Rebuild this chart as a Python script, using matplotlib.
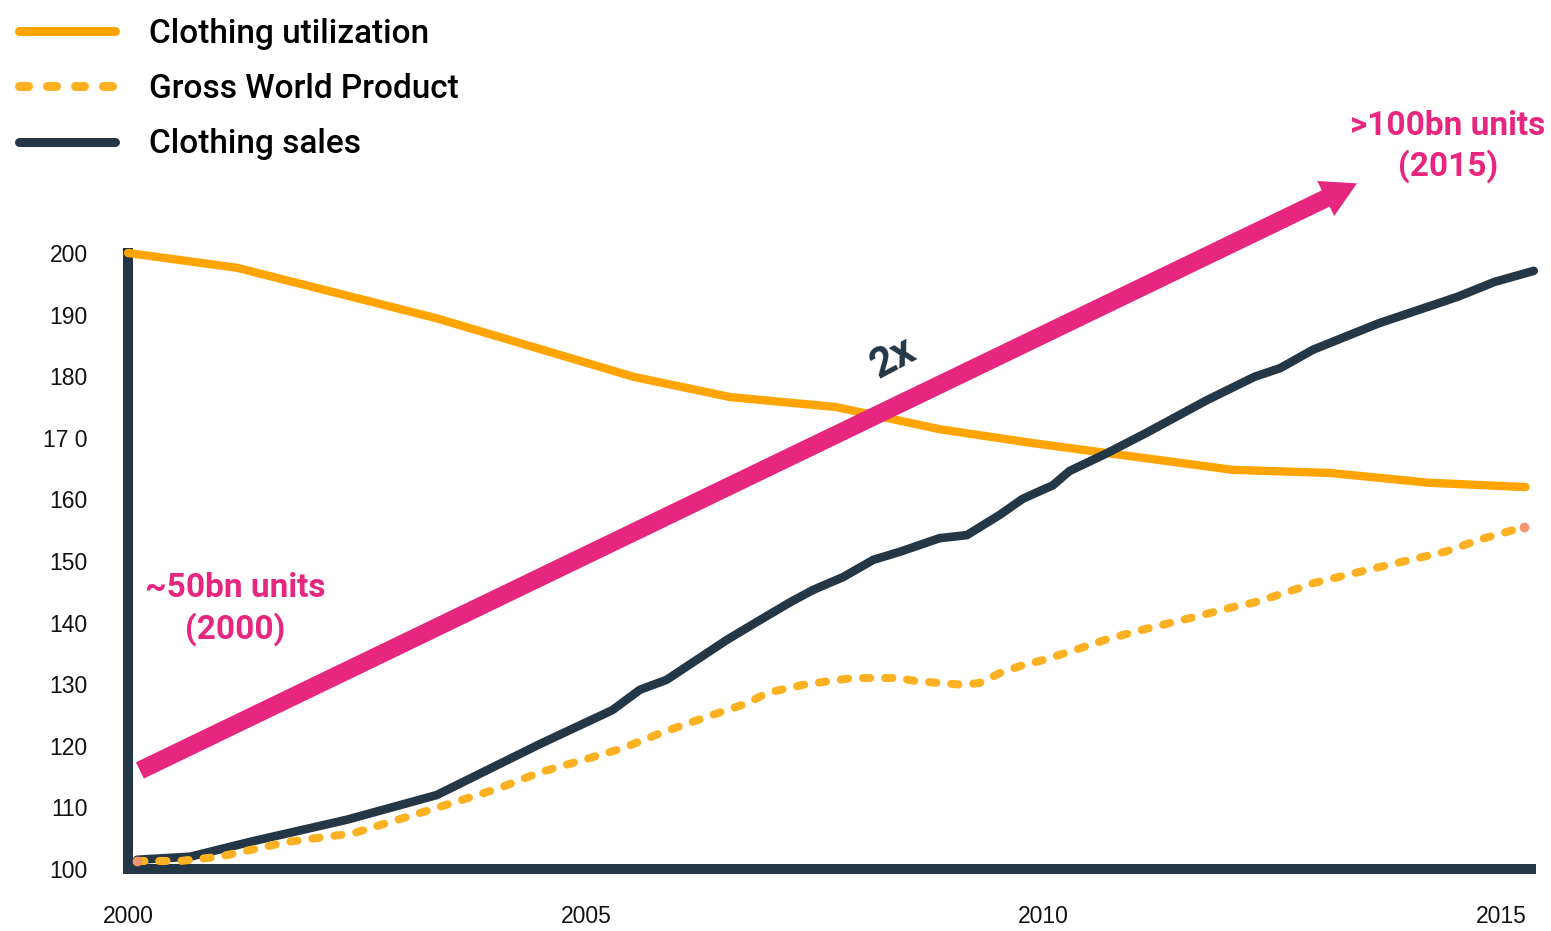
import matplotlib
matplotlib.use("Agg")
import matplotlib.pyplot as plt
from matplotlib.lines import Line2D
from matplotlib.patches import FancyArrowPatch, ArrowStyle

# Clothing utilization (index, 2000 = 200)
util_years = [2000.0, 2001.19, 2003.37, 2005.52, 2006.58, 2007.73, 2008.86,
              2009.85, 2012.06, 2013.12, 2014.21, 2015.26]
util_vals = [200.0, 197.6, 189.4, 179.9, 176.6, 175.0, 171.4,
             169.2, 164.8, 164.3, 162.7, 162.0]

# Clothing sales
sales_years = [2000.10, 2000.68, 2001.36, 2002.39, 2003.37, 2004.50, 2005.29,
               2005.59, 2005.88, 2006.54, 2006.90, 2007.23, 2007.48, 2007.81,
               2008.14, 2008.43, 2008.86, 2009.16, 2009.52, 2009.77, 2010.10,
               2010.28, 2010.69, 2011.12, 2011.78, 2012.30, 2012.58, 2012.94,
               2013.66, 2014.52, 2014.92, 2015.35]
sales_vals = [101.5, 102.0, 104.5, 108.0, 112.0, 120.3, 125.8,
              129.1, 130.7, 137.2, 140.4, 143.3, 145.3, 147.4,
              150.2, 151.5, 153.7, 154.2, 157.5, 160.1, 162.3,
              164.6, 167.5, 170.8, 176.1, 179.9, 181.3, 184.3,
              188.6, 192.9, 195.3, 197.1]

# Gross World Product
gwp_years = [2000.10, 2000.57, 2001.00, 2001.74, 2002.46, 2003.30, 2004.03,
             2004.50, 2004.97, 2005.40, 2005.84, 2006.32, 2006.76, 2006.98,
             2007.37, 2007.66, 2007.91, 2008.40, 2008.61, 2008.86, 2009.12,
             2009.30, 2009.52, 2009.77, 2009.99, 2010.43, 2010.69, 2011.12,
             2011.59, 2012.06, 2012.28, 2012.50, 2012.79, 2012.94, 2013.66,
             2014.38, 2014.81, 2015.24]
gwp_vals = [101.3, 101.3, 102.0, 104.4, 105.8, 109.6, 113.0,
            115.7, 117.7, 119.6, 122.2, 124.7, 126.9, 128.6,
            129.9, 130.5, 131.0, 131.0, 130.5, 130.2, 129.9,
            130.2, 131.8, 133.1, 133.9, 136.0, 137.3, 139.0,
            140.7, 142.5, 143.2, 144.2, 145.6, 146.4, 149.0,
            151.5, 153.7, 155.5]

y_ticks = [100, 110, 120, 130, 140, 150, 160, 170, 180, 190, 200]
y_labels = ["100", "110", "120", "130", "140", "150", "160", "17 0", "180", "190", "200"]
x_ticks = [2000, 2005, 2010, 2015]

# growth arrow: ~50bn units (2000) -> >100bn units (2015)
arrow_start = (2000.13, 116.0)
arrow_end = (2013.42, 211.3)

ORANGE = "#FFA400"
GOLD = "#FBB122"
NAVY = "#243746"
PINK = "#E6267F"
SALMON = "#F2956C"

fig = plt.figure(figsize=(15.51, 9.31), dpi=100)
ax = fig.add_axes([128 / 1551, 62 / 931, 1403 / 1551, 616 / 931])
ax.set_xlim(2000, 2015.32)
ax.set_ylim(100, 200)

ax.plot(util_years, util_vals, color=ORANGE, lw=6, solid_capstyle="round",
        solid_joinstyle="round", zorder=3, clip_on=False)
ax.plot(sales_years, sales_vals, color=NAVY, lw=6.2, solid_capstyle="round",
        solid_joinstyle="round", zorder=3, clip_on=False)
ax.plot(gwp_years, gwp_vals, color=GOLD, lw=5.8, dashes=(0.9, 1.85),
        dash_capstyle="round", zorder=4, clip_on=False)
ax.plot([gwp_years[0], gwp_years[-1]], [gwp_vals[0], gwp_vals[-1]], "o",
        color=SALMON, ms=7, mew=0, zorder=5, clip_on=False)

arrow = FancyArrowPatch(arrow_start, arrow_end,
                        arrowstyle=ArrowStyle.Simple(head_length=25, head_width=28,
                                                     tail_width=13),
                        mutation_scale=1, color=PINK, lw=0, shrinkA=0, shrinkB=0,
                        clip_on=False, zorder=6)
ax.add_patch(arrow)

ax.text(2008.35, 182.9, "2x", rotation=28, color=NAVY, fontsize=30,
        fontweight="bold", family="Roboto", ha="center", va="center")
ax.text(2001.17, 142.2, "~50bn units\n(2000)", color=PINK, fontsize=24,
        fontweight="bold", family="Roboto", ha="center", va="center",
        linespacing=1.3)
ax.text(2014.41, 217.3, ">100bn units\n(2015)", color=PINK, fontsize=24,
        fontweight="bold", family="Roboto", ha="center", va="center",
        linespacing=1.3, clip_on=False)

for side in ["top", "right"]:
    ax.spines[side].set_visible(False)
for side in ["left", "bottom"]:
    ax.spines[side].set_color(NAVY)
    ax.spines[side].set_linewidth(7.2)
    ax.spines[side].set_zorder(2)

ax.set_yticks(y_ticks)
ax.set_yticklabels(y_labels)
ax.set_xticks(x_ticks)
ax.set_xticklabels([str(t) for t in x_ticks])
ax.tick_params(axis="y", length=0, pad=29, labelsize=16.5, labelcolor="#111111")
ax.tick_params(axis="x", length=0, pad=26, labelsize=16.5, labelcolor="#111111")
for lab in ax.get_xticklabels() + ax.get_yticklabels():
    lab.set_family("Liberation Sans")

handles = [
    Line2D([], [], color=ORANGE, lw=6.5, solid_capstyle="round"),
    Line2D([], [], color=GOLD, lw=6.5, dashes=(1, 2.1), dash_capstyle="round"),
    Line2D([], [], color=NAVY, lw=6.5, solid_capstyle="round"),
]
labels = ["Clothing utilization", "Gross World Product", "Clothing sales"]
fig.legend(handles, labels, loc="upper left", bbox_to_anchor=(0.012, 0.981),
           frameon=False, handlelength=2.9, handletextpad=1.0, labelspacing=0.7,
           borderpad=0, borderaxespad=0,
           prop={"family": "Roboto", "weight": "medium", "size": 24})

fig.savefig("out.png", dpi=100)
